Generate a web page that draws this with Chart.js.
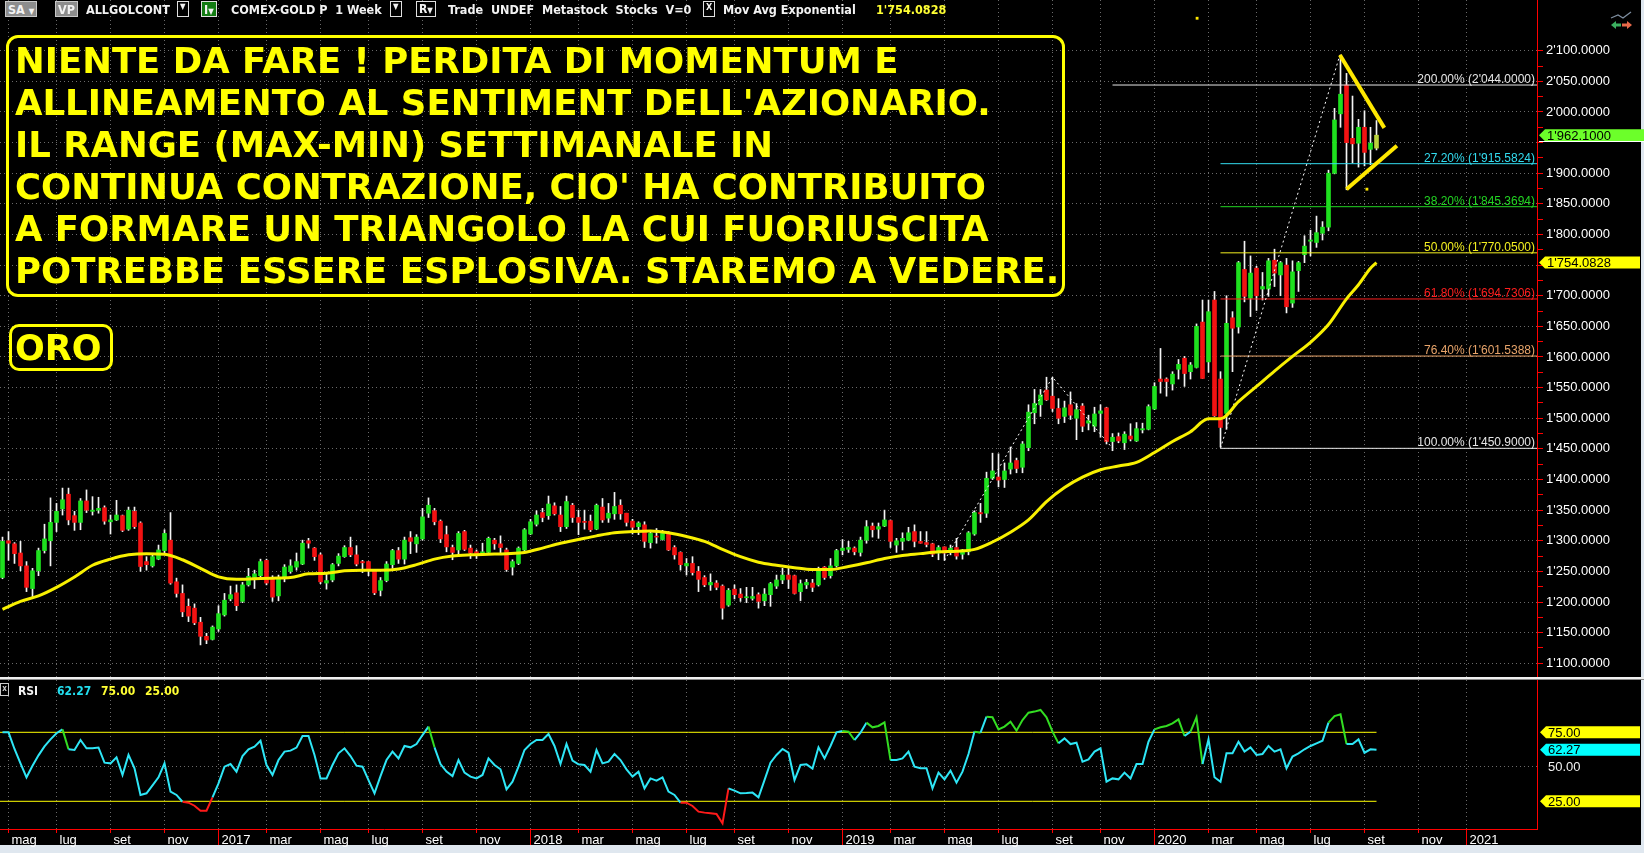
<!DOCTYPE html>
<html>
<head>
<meta charset="utf-8">
<title>ORO - COMEX-GOLD 1 Week</title>
<script src="https://cdn.jsdelivr.net/npm/chart.js@4.4.1/dist/chart.umd.min.js"></script>
<style>
html,body{margin:0;padding:0;background:#000}
body{width:1644px;height:853px;overflow:hidden;position:relative;font-family:"Liberation Sans",Arial,sans-serif}
canvas{position:absolute;left:0}
#price{top:0}
#rsi{top:679px}
.band{position:absolute;background:#dfe7ef}
.sep{position:absolute;left:0;top:677px;width:1644px;height:2px;background:#f0f0f0}
.sep2{position:absolute;left:0;top:679px;width:1644px;height:1px;background:#8a8a8a}
.h{position:absolute;top:2px;height:14px;line-height:14px;font:bold 12.5px "DejaVu Sans Condensed","DejaVu Sans",sans-serif;color:#f2f2f2;white-space:nowrap}
.gbox{background:#8d8d8d;border:1px solid #c8c8c8;padding:0 2px;top:1px}
.obox{border:1px solid #e0e0e0;padding:0 2px;top:1px;font-size:8px}
.grbox{background:#137c13;border:1px solid #e0e0e0;padding:0 2px;top:1px}
.note{position:absolute;left:6px;top:35px;width:1059px;height:262px;box-sizing:border-box;border:3px solid #ffff00;border-radius:12px;padding:2px 0 0 6px;color:#ffff00;font:bold 35.5px/41.9px "DejaVu Sans",sans-serif;white-space:nowrap}
.oro{position:absolute;left:9px;top:324px;width:104px;height:47px;box-sizing:border-box;border:3px solid #ffff00;border-radius:10px;padding:1px 0 0 3px;color:#ffff00;font:bold 35px/41px "DejaVu Sans",sans-serif}
.r{position:absolute;top:684px;height:13px;line-height:13px;font:bold 12px "DejaVu Sans Condensed","DejaVu Sans",sans-serif;white-space:nowrap}
</style>
</head>
<body>
<div class="band" style="left:0;top:845px;width:1644px;height:8px"></div>
<div class="band" style="left:1641px;top:0;width:3px;height:853px"></div>

<canvas id="price" width="1644" height="677"></canvas>
<div class="sep"></div><div class="sep2"></div>
<canvas id="rsi" width="1644" height="174"></canvas>

<span class="h gbox" style="left:5px">SA <span style="font-size:8px">▼</span></span>
<span class="h gbox" style="left:55px">VP</span>
<span class="h" style="left:86px">ALLGOLCONT</span>
<span class="h obox" style="left:177px">▼</span>
<span class="h grbox" style="left:201px">I<span style="font-size:8px">▼</span></span>
<span class="h" style="left:231px">COMEX-GOLD P&nbsp; 1 Week</span>
<span class="h obox" style="left:390px">▼</span>
<span class="h obox" style="left:416px;font-size:12px">R<span style="font-size:8px">▼</span></span>
<span class="h" style="left:448px">Trade&nbsp; UNDEF&nbsp; Metastock&nbsp; Stocks&nbsp; V=0</span>
<span class="h obox" style="left:703px;font-size:9px">X</span>
<span class="h" style="left:723px">Mov Avg Exponential</span>
<span class="h" style="left:876px;color:#ffff33">1'754.0828</span>

<svg style="position:absolute;left:1608px;top:8px" width="28" height="24">
<polyline points="3,10 10,7 15,10 23,4" fill="none" stroke="#7e8ea0" stroke-width="1.3"/>
<polygon points="3,17 8,13 8,21" fill="#3cb060"/><rect x="8" y="15.5" width="5" height="3" fill="#3cb060"/>
<polygon points="24,17 19,13 19,21" fill="#e86a4a"/><rect x="14" y="15.5" width="5" height="3" fill="#e86a4a"/>
</svg>

<div class="note">NIENTE DA FARE ! PERDITA DI MOMENTUM E<br>ALLINEAMENTO AL SENTIMENT DELL'AZIONARIO.<br>IL RANGE (MAX-MIN) SETTIMANALE IN<br>CONTINUA CONTRAZIONE, CIO' HA CONTRIBUITO<br>A FORMARE UN TRIANGOLO LA CUI FUORIUSCITA<br>POTREBBE ESSERE ESPLOSIVA. STAREMO A VEDERE.</div>
<div class="oro">ORO</div>

<span class="r" style="left:0;top:683px;width:7px;height:11px;line-height:10px;border:1px solid #ccc;color:#ccc;font-size:8px;text-align:center">x</span>
<span class="r" style="left:18px;color:#f2f2f2">RSI</span>
<span class="r" style="left:57px;color:#22ddee">62.27</span>
<span class="r" style="left:101px;color:#ffff33">75.00</span>
<span class="r" style="left:145px;color:#ffff33">25.00</span>

<script>
// weekly bars, bar 0 = week of 25 apr 2016
const weekZero = Date.UTC(2016, 3, 24)

const opens = [
1240,1300,1295,1280,1259,1222,1251,1284,1300,1330,
1352,1376,1341,1330,1365,1348,1350,1354,1331,1334,
1341,1319,1348,1329,1266,1259,1270,1284,1301,1233,
1214,1193,1190,1167,1144,1139,1156,1179,1205,1215,
1201,1228,1240,1243,1268,1239,1210,1239,1250,1257,
1262,1300,1288,1277,1231,1236,1263,1274,1289,1277,
1266,1266,1251,1219,1235,1261,1284,1270,1305,1295,
1303,1345,1349,1332,1310,1289,1285,1315,1288,1282,
1279,1281,1301,1295,1285,1257,1263,1285,1311,1327,
1346,1341,1357,1342,1323,1358,1338,1331,1332,1319,
1355,1337,1344,1358,1345,1332,1323,1326,1297,1307,
1302,1311,1289,1281,1259,1263,1250,1240,1228,1231,
1226,1195,1221,1213,1207,1206,1212,1202,1212,1226,
1236,1244,1243,1217,1228,1231,1228,1257,1243,1259,
1284,1286,1288,1281,1301,1324,1319,1324,1333,1293,
1299,1301,1315,1299,1297,1295,1280,1290,1282,1289,
1278,1282,1311,1346,1345,1402,1404,1400,1417,1431,
1420,1452,1509,1522,1546,1536,1516,1503,1522,1500,
1520,1492,1487,1508,1517,1462,1470,1460,1471,1463,
1481,1482,1515,1564,1564,1556,1580,1598,1576,1583,
1657,1592,1693,1564,1508,1664,1649,1743,1696,1745,
1711,1711,1758,1734,1750,1688,1741,1767,1789,1787,
1802,1812,1900,1997,2044,1957,1949,1975,1939,1941
]

const highs = [
1306,1315,1297,1299,1266,1255,1288,1327,1370,1361,
1386,1386,1348,1369,1383,1372,1371,1357,1342,1366,
1342,1355,1355,1331,1274,1277,1293,1318,1346,1239,
1228,1205,1197,1175,1149,1161,1194,1214,1226,1228,
1232,1255,1252,1270,1270,1243,1244,1261,1269,1280,
1301,1304,1289,1280,1247,1263,1279,1292,1306,1292,
1268,1266,1252,1240,1266,1286,1289,1306,1315,1310,
1353,1370,1353,1334,1324,1293,1315,1317,1293,1285,
1296,1306,1304,1308,1288,1269,1290,1320,1335,1349,
1353,1373,1362,1356,1373,1361,1350,1350,1342,1360,
1369,1361,1379,1367,1345,1335,1331,1331,1315,1320,
1317,1315,1292,1282,1271,1274,1258,1243,1246,1235,
1228,1222,1228,1222,1224,1224,1215,1222,1232,1244,
1255,1255,1244,1236,1237,1237,1257,1258,1271,1286,
1302,1299,1290,1306,1333,1329,1329,1350,1334,1304,
1313,1322,1326,1315,1315,1296,1292,1290,1293,1304,
1286,1315,1349,1361,1412,1443,1442,1427,1453,1435,
1462,1522,1547,1547,1567,1567,1532,1528,1543,1524,
1524,1505,1518,1522,1518,1475,1476,1478,1491,1493,
1492,1522,1558,1614,1566,1576,1596,1601,1591,1654,
1693,1693,1707,1576,1700,1674,1756,1789,1765,1748,
1738,1761,1776,1756,1761,1757,1756,1798,1807,1830,
1821,1905,2006,2093,2063,2026,1988,2002,1975,1986
]

const lows = [
1238,1268,1263,1251,1217,1207,1243,1280,1259,1315,
1342,1326,1317,1318,1346,1342,1345,1327,1311,1333,
1315,1317,1320,1250,1252,1257,1269,1280,1229,1208,
1176,1168,1163,1130,1132,1138,1152,1177,1202,1186,
1199,1226,1222,1239,1228,1201,1202,1233,1247,1252,
1261,1288,1268,1230,1221,1233,1259,1273,1274,1259,
1248,1243,1212,1210,1233,1255,1263,1262,1279,1281,
1301,1338,1326,1297,1282,1269,1274,1284,1271,1271,
1277,1279,1286,1280,1250,1244,1261,1282,1310,1324,
1331,1335,1342,1315,1320,1330,1310,1319,1315,1318,
1330,1330,1335,1335,1324,1311,1310,1289,1288,1296,
1301,1284,1270,1252,1244,1244,1217,1225,1219,1220,
1172,1193,1205,1201,1199,1203,1190,1194,1193,1222,
1230,1222,1213,1202,1222,1217,1226,1237,1239,1257,
1277,1281,1277,1275,1296,1306,1304,1323,1289,1281,
1285,1300,1290,1296,1290,1274,1269,1268,1277,1270,
1270,1277,1309,1330,1338,1400,1388,1387,1409,1411,
1411,1447,1491,1503,1529,1511,1491,1493,1498,1465,
1478,1481,1478,1469,1458,1447,1460,1449,1463,1462,
1476,1481,1514,1541,1536,1546,1564,1552,1564,1582,
1565,1575,1503,1453,1482,1576,1639,1690,1666,1676,
1693,1699,1715,1700,1672,1681,1707,1754,1765,1779,
1791,1806,1899,1975,1873,1917,1910,1912,1914,1938
]

const closes = [
1299,1296,1279,1259,1224,1251,1284,1303,1330,1348,
1367,1334,1330,1365,1350,1350,1353,1332,1334,1342,
1317,1350,1323,1258,1261,1274,1285,1312,1231,1214,
1184,1177,1166,1144,1138,1159,1181,1203,1212,1194,
1228,1242,1246,1266,1231,1208,1240,1257,1259,1266,
1296,1296,1274,1233,1235,1261,1275,1289,1277,1262,
1264,1252,1215,1235,1262,1284,1270,1301,1299,1306,
1339,1358,1331,1303,1290,1281,1312,1286,1280,1279,
1282,1304,1295,1289,1253,1266,1288,1318,1331,1342,
1338,1360,1344,1323,1364,1338,1330,1330,1318,1358,
1334,1345,1356,1344,1330,1322,1329,1299,1312,1306,
1312,1285,1277,1261,1263,1248,1237,1228,1232,1224,
1190,1219,1212,1207,1208,1209,1201,1213,1230,1236,
1244,1237,1214,1230,1232,1224,1255,1240,1259,1284,
1288,1289,1282,1301,1323,1318,1323,1334,1299,1300,
1304,1313,1299,1296,1294,1278,1289,1280,1288,1275,
1285,1313,1346,1344,1402,1414,1399,1414,1427,1418,
1458,1510,1524,1538,1530,1516,1500,1517,1505,1514,
1487,1496,1507,1512,1462,1469,1463,1474,1466,1483,
1483,1519,1552,1560,1560,1572,1588,1573,1587,1650,
1565,1674,1504,1485,1655,1647,1754,1699,1737,1700,
1715,1757,1737,1754,1682,1739,1754,1781,1791,1803,
1812,1900,1987,2029,1950,1948,1975,1934,1949,1962.1
]

// exponential moving average, every few bars
const emaBars = [0,3,6,9,12,15,18,21,24,27,30,33,36,39,42,45,48,51,54,57,60,63,66,69,72,75,78,81,84,87,
90,93,96,99,102,105,108,111,114,117,120,123,126,129,132,135,138,141,144,147,150,153,156,159,162,165,168,171,174,177,
180,183,186,189,192,195,198,201,203,206,209,212,215,218,221,224,226,228,229]
const emaValues = [1188,1201,1210,1224,1241,1260,1270,1277,1279,1278,1269,1255,1241,1237,1238,1239,1240,1246,1247,1251,1252,1252,1254,1261,1270,1275,1277,1278,1279,1281,
1288,1296,1302,1308,1313,1315,1316,1313,1307,1299,1286,1274,1265,1260,1256,1253,1253,1258,1264,1271,1276,1279,1282,1283,1286,1298,1314,1334,1364,1387,
1404,1416,1422,1428,1444,1462,1478,1499,1499,1527,1552,1577,1601,1624,1653,1695,1718,1745,1754.0828]

const rsiValues = [
75.0,75.0,62.9,52.5,42.4,50.8,58.3,64.8,69.9,74.3,
77.1,62.7,62.2,69.4,63.4,63.4,64.0,53.0,52.5,56.9,
44.1,58.6,48.9,29.6,30.8,36.6,42.4,52.5,32.0,29.6,
24.7,24.0,21.8,18.2,18.2,27.9,38.0,50.1,52.0,46.5,
57.8,62.7,64.6,68.9,51.3,44.1,54.9,61.0,61.7,63.9,
72.3,72.3,58.6,41.6,41.6,51.3,59.8,63.4,57.8,50.8,
50.1,40.4,30.8,43.3,54.9,61.0,56.1,65.1,64.1,66.5,
73.0,79.1,64.1,52.0,46.5,43.3,54.9,45.8,42.9,41.6,
44.1,56.1,51.3,48.2,33.7,39.2,50.1,62.2,66.5,69.4,
69.4,73.8,65.1,52.0,66.5,54.5,51.8,51.3,46.5,62.2,
52.5,53.7,59.3,54.9,48.2,42.9,46.5,34.4,41.6,40.0,
42.4,32.0,29.6,24.0,24.0,21.6,17.5,16.8,16.3,15.8,
9.0,34.4,32.7,30.8,31.0,31.3,27.9,40.4,53.0,58.6,
62.9,60.2,40.4,51.3,51.8,48.7,64.1,56.1,65.1,75.0,
75.9,75.5,69.4,74.7,82.0,78.6,79.6,82.2,54.9,54.9,
56.1,61.0,50.1,48.9,48.9,34.4,45.8,40.9,47.2,38.5,
46.5,59.3,75.5,74.7,86.3,85.9,77.1,79.1,82.7,76.2,
83.9,89.2,90.0,91.2,85.9,75.5,67.0,70.6,66.5,67.5,
53.7,55.4,61.0,63.4,39.2,41.6,40.9,45.8,41.6,52.0,
52.0,68.2,77.1,78.6,79.6,81.5,84.4,72.3,75.5,85.9,
52.0,69.9,42.4,39.2,59.8,59.8,68.2,61.0,64.1,58.6,
59.3,65.1,61.0,62.7,48.9,57.4,59.8,62.7,65.1,67.0,
68.9,82.0,86.8,88.0,66.5,66.5,69.9,60.2,62.7,62.27
]
const rsiUpper = 75
const rsiLower = 25

const tickLabels = ['mag','lug','set','nov',
'2017','mar','mag','lug','set','nov',
'2018','mar','mag','lug','set','nov',
'2019','mar','mag','lug','set','nov',
'2020','mar','mag','lug','set','nov',
'2021']

const fibNames = ['200.00%','27.20%','38.20%','50.00%','61.80%','76.40%','100.00%']
const fibLevels = [2044, 1915.5824, 1845.3694, 1770.05, 1694.7306, 1601.5388, 1450.9]
const fibStart = [185,203,203,203,203,203,203]
const fibColors = ['#e6e6e6','#33dcf0','#22d422','#f4f020','#ff1e1e','#e8a46a','#e6e6e6']

// drawn lines (bar, price)
const triUpperBars = [222.9, 230.3]
const triUpperValues = [2093, 1974]
const triLowerBars = [224, 232.4]
const triLowerValues = [1874, 1945]
const zigBarsA = [157, 175, 185]
const zigValuesA = [1268, 1567, 1451]
const zigBarsB = [203, 222.9]
const zigValuesB = [1451, 2093]
const markBars = [227.4, 199.1]
const markValues = [1874, 2153]

const xMin = -0.4167
const xMax = 255.75
const last = closes.length - 1
const emaLast = emaValues[emaValues.length - 1]

const tickBars = tickLabels.map((t, j) =>
  Math.floor((Date.UTC(2016, 4 + 2 * j, 1) - weekZero) / (7 * 864e5)))

const yTicks = []
for (let v = 1100; v <= 2100; v += 25) yTicks.push(v)

function fmt(v) {
  let s = v.toFixed(4).split('.')
  return s[0].replace(/\B(?=(\d{3})+(?!\d))/g, "'") + '.' + s[1]
}

function pts(xs, ys) {
  return xs.map((x, i) => ({x: x, y: ys[i]}))
}

function tag(ctx, x0, cy, right, color, text) {
  ctx.fillStyle = color
  ctx.beginPath()
  ctx.moveTo(x0, cy)
  ctx.lineTo(x0 + 6, cy - 6)
  ctx.lineTo(right, cy - 6)
  ctx.lineTo(right, cy + 6)
  ctx.lineTo(x0 + 6, cy + 6)
  ctx.closePath()
  ctx.fill()
  ctx.fillStyle = '#000'
  ctx.font = '13px "Liberation Sans"'
  ctx.textAlign = 'left'
  ctx.textBaseline = 'middle'
  ctx.fillText(text, x0 + 8, cy + 1)
}

const green = '#1ee01e'
const red = '#f21212'

function bodyColor(c) {
  let k = c.dataIndex
  if (k === last) return '#b9d23c'
  return closes[k] >= opens[k] ? green : red
}

// price labels hidden where the value tags sit
function priceLabel(v) {
  if (v % 50 !== 0) return ''
  if (Math.abs(v - closes[last]) < 20 || Math.abs(v - emaLast) < 20) return ''
  return fmt(v)
}

const priceOverlay = {
  id: 'priceOverlay',
  afterDatasetsDraw(chart) {
    const {ctx, chartArea, scales} = chart
    const y = scales.y
    ctx.save()
    ctx.font = '12px "Liberation Sans"'
    ctx.textAlign = 'right'
    ctx.textBaseline = 'alphabetic'
    fibLevels.forEach((v, i) => {
      ctx.fillStyle = fibColors[i]
      ctx.fillText(fibNames[i] + ' (' + fmt(v) + ')', chartArea.right - 2, y.getPixelForValue(v) - 2)
    })
    let cy = y.getPixelForValue(closes[last])
    tag(ctx, chartArea.right + 2, cy, 1644, '#6cff2a', fmt(closes[last]))
    ctx.fillStyle = '#ffffff'
    ctx.fillRect(chartArea.right + 2, Math.round(cy + 6), 1644, 1)
    tag(ctx, chartArea.right + 2, y.getPixelForValue(emaLast), 1640, '#ffff00', fmt(emaLast))
    ctx.restore()
  }
}

const rsiOverlay = {
  id: 'rsiOverlay',
  afterDraw(chart) {
    const {ctx, chartArea, scales} = chart
    const x = scales.x, y = scales.y
    ctx.save()
    ctx.strokeStyle = '#ff0000'
    ctx.lineWidth = 1
    tickLabels.forEach((t, i) => {
      if (/^\d{4}$/.test(t)) {
        let px = x.getPixelForValue(tickBars[i])
        ctx.beginPath()
        ctx.moveTo(px, chartArea.bottom)
        ctx.lineTo(px, chartArea.bottom + 16)
        ctx.stroke()
      }
    })
    tag(ctx, chartArea.right + 3, y.getPixelForValue(rsiUpper), 1640, '#ffff00', rsiUpper.toFixed(2))
    tag(ctx, chartArea.right + 3, y.getPixelForValue(rsiValues[last]), 1640, '#00ffff', rsiValues[last].toFixed(2))
    tag(ctx, chartArea.right + 3, y.getPixelForValue(rsiLower), 1640, '#ffff00', rsiLower.toFixed(2))
    ctx.fillStyle = '#f0f0f0'
    ctx.font = '13px "Liberation Sans"'
    ctx.textBaseline = 'middle'
    ctx.fillText('50.00', chartArea.right + 11, y.getPixelForValue(50) + 1)
    ctx.restore()
  }
}

const gridGrey = '#6a6a6a'

let datasets = [
  {type: 'line', data: pts(emaBars, emaValues), borderColor: '#f8f000', borderWidth: 3,
   pointRadius: 0, cubicInterpolationMode: 'monotone', order: 1},
  {type: 'line', data: pts(triUpperBars, triUpperValues), borderColor: '#ffe800', borderWidth: 4, pointRadius: 0, order: 1},
  {type: 'line', data: pts(triLowerBars, triLowerValues), borderColor: '#ffe800', borderWidth: 4, pointRadius: 0, order: 1},
  {type: 'line', data: pts(markBars, markValues), showLine: false, pointStyle: 'rect', pointRadius: 2,
   pointBackgroundColor: '#ffe800', pointBorderWidth: 0, order: 1},
  {type: 'line', data: pts(zigBarsA, zigValuesA), borderColor: '#ffffff', borderWidth: 1, borderDash: [2, 3], pointRadius: 0, order: 2},
  {type: 'line', data: pts(zigBarsB, zigValuesB), borderColor: '#ffffff', borderWidth: 1, borderDash: [2, 3], pointRadius: 0, order: 2}
]

fibLevels.forEach((v, i) => {
  datasets.push({type: 'line', data: [{x: fibStart[i], y: v}, {x: xMax, y: v}],
    borderColor: fibColors[i], borderWidth: 1, pointRadius: 0, order: 2})
})

datasets.push({type: 'bar', data: opens.map((o, k) => ({x: k, y: [o, closes[k]]})),
  backgroundColor: bodyColor, barThickness: 4, minBarLength: 1, grouped: false, order: 3})
datasets.push({type: 'bar', data: opens.map((o, k) => ({x: k, y: [lows[k], highs[k]]})),
  backgroundColor: '#f4f4f4', barThickness: 1, grouped: false, order: 4})

new Chart(document.getElementById('price'), {
  type: 'bar',
  data: {datasets: datasets},
  options: {
    responsive: false,
    animation: false,
    events: [],
    layout: {padding: 0, autoPadding: false},
    plugins: {legend: {display: false}, tooltip: {enabled: false}},
    scales: {
      x: {
        type: 'linear', min: xMin, max: xMax, offset: false,
        afterBuildTicks: s => { s.ticks = tickBars.map(v => ({value: v})) },
        afterFit: s => { s.height = 0; s.paddingLeft = 0; s.paddingRight = 0 },
        ticks: {display: false},
        grid: {color: gridGrey, drawTicks: false, offset: false},
        border: {display: false, dash: [1, 3]}
      },
      y: {
        type: 'linear', position: 'right', min: 1077.6, max: 2182.8,
        afterBuildTicks: s => { s.ticks = yTicks.map(v => ({value: v})) },
        afterFit: s => { s.width = 107; s.paddingTop = 0; s.paddingBottom = 0 },
        ticks: {color: '#ffffff', font: {family: 'Liberation Sans', size: 13}, padding: 3, autoSkip: false,
          callback: v => priceLabel(v)},
        grid: {color: c => (c.tick && c.tick.value % 50 === 0) ? gridGrey : 'rgba(0,0,0,0)',
          tickColor: '#ff0000', tickLength: 6},
        border: {color: '#ff0000', width: 1, dash: [1, 3]}
      }
    }
  },
  plugins: [priceOverlay]
})

new Chart(document.getElementById('rsi'), {
  type: 'line',
  data: {datasets: [
    {data: rsiValues.map((v, k) => ({x: k, y: v})), borderColor: '#2ee6f6', borderWidth: 2, pointRadius: 0,
     segment: {borderColor: c => c.p0.parsed.y > rsiUpper ? '#33dd22' : (c.p0.parsed.y < rsiLower ? '#ff1a1a' : undefined)},
     order: 1},
    {data: [{x: xMin, y: rsiUpper}, {x: last, y: rsiUpper}], borderColor: '#ffff00', borderWidth: 1, pointRadius: 0, order: 2},
    {data: [{x: xMin, y: rsiLower}, {x: last, y: rsiLower}], borderColor: '#ffff00', borderWidth: 1, pointRadius: 0, order: 2}
  ]},
  options: {
    responsive: false,
    animation: false,
    events: [],
    layout: {padding: {top: 1, left: 0, right: 0, bottom: 0}, autoPadding: false},
    plugins: {legend: {display: false}, tooltip: {enabled: false}},
    scales: {
      x: {
        type: 'linear', min: xMin, max: xMax, offset: false,
        afterBuildTicks: s => { s.ticks = tickBars.map(v => ({value: v})) },
        afterFit: s => { s.height = 24; s.paddingLeft = 0; s.paddingRight = 0 },
        ticks: {color: '#ffffff', font: {family: 'Liberation Sans', size: 13}, align: 'start', labelOffset: 3,
          padding: 0, maxRotation: 0, autoSkip: false, callback: (v, i) => tickLabels[i]},
        grid: {color: gridGrey, tickColor: '#ff0000', tickLength: 4},
        border: {color: '#ff0000', width: 1, dash: [1, 3]}
      },
      y: {
        type: 'linear', position: 'right', min: 4.93, max: 112.9,
        afterBuildTicks: s => { s.ticks = [{value: 50}] },
        afterFit: s => { s.width = 107; s.paddingTop = 0; s.paddingBottom = 0 },
        ticks: {display: false},
        grid: {color: gridGrey, drawTicks: false},
        border: {color: '#ff0000', width: 1, dash: [1, 3]}
      }
    }
  },
  plugins: [rsiOverlay]
})
</script>
</body>
</html>
